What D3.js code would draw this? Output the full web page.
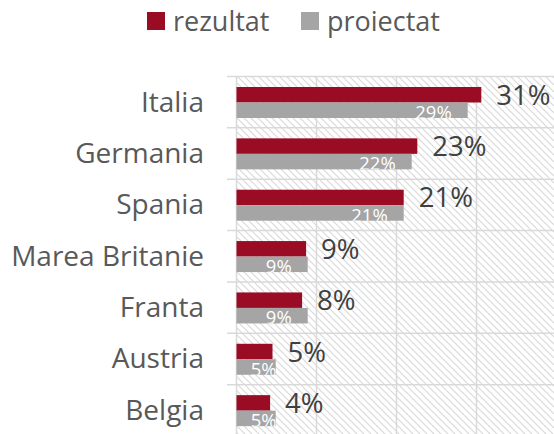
<!DOCTYPE html>
<html>
<head>
<meta charset="utf-8">
<script src="https://cdn.jsdelivr.net/npm/d3@7"></script>
<style>
  body { margin: 0; background: #fff; }
  text { font-family: "Open Sans", sans-serif; }
</style>
</head>
<body>
<script>
// data (percent)
var tari = ["Italia", "Germania", "Spania", "Marea Britanie", "Franta", "Austria", "Belgia"];
var rezultat = [30.6, 22.6, 20.9, 8.7, 8.2, 4.5, 4.2];
var proiectat = [28.9, 21.9, 20.9, 8.9, 8.9, 4.9, 4.9];
var serii = ["rezultat", "proiectat"];
var culori = ["#9a0b24", "#a5a5a5"];
var gridTicks = [10, 20, 30];

var W = 554, H = 434;
var svg = d3.select("body").append("svg")
    .attr("width", W)
    .attr("height", H);

// hatch pattern for plot area
var defs = svg.append("defs");
var pat = defs.append("pattern")
    .attr("id", "hatch")
    .attr("patternUnits", "userSpaceOnUse")
    .attr("width", 7).attr("height", 7);
pat.append("path")
    .attr("d", "M-1,-1 L8,8 M-8,-1 L1,8 M6,-1 L15,8")
    .attr("stroke", "#d9d9d9")
    .attr("stroke-width", 1.2);

var x = d3.scaleLinear().domain([0, 40]).range([236.5, 556.5]);
var y = d3.scaleBand().domain(tari).range([76.5, 436]);
var sub = d3.scaleBand().domain(serii).range([10.5, 41.5]);

// background
svg.append("rect")
    .attr("x", x(0)).attr("y", y.range()[0])
    .attr("width", W - x(0)).attr("height", H - y.range()[0])
    .attr("fill", "url(#hatch)");

// vertical gridlines
svg.selectAll(".vgrid")
    .data(gridTicks)
    .enter().append("line")
    .attr("x1", function(d){ return x(d); })
    .attr("x2", function(d){ return x(d); })
    .attr("y1", y.range()[0]).attr("y2", H)
    .attr("stroke", "#d9d9d9").attr("stroke-width", 1.5);

// horizontal category lines
var bounds = tari.map(function(d){ return y(d); });
svg.selectAll(".hgrid")
    .data(bounds)
    .enter().append("line")
    .attr("x1", 227).attr("x2", W)
    .attr("y1", function(d){ return d; })
    .attr("y2", function(d){ return d; })
    .attr("stroke", "#d9d9d9").attr("stroke-width", 1.5);

// axis line
svg.append("line")
    .attr("x1", x(0)).attr("x2", x(0))
    .attr("y1", y.range()[0]).attr("y2", H)
    .attr("stroke", "#d9d9d9").attr("stroke-width", 1.5);

var rows = tari.map(function(t, i){
    return {tara: t, rezultat: rezultat[i], proiectat: proiectat[i]};
});

// clip paths for grey bar labels
rows.forEach(function(d, i){
    defs.append("clipPath").attr("id", "clip" + i)
        .append("rect")
        .attr("x", x(0)).attr("y", y(d.tara) + sub("proiectat"))
        .attr("width", x(d.proiectat) - x(0))
        .attr("height", sub.bandwidth());
});

var g = svg.selectAll(".row")
    .data(rows)
    .enter().append("g")
    .attr("transform", function(d){ return "translate(0," + y(d.tara) + ")"; });

serii.forEach(function(s, k){
    g.append("rect")
        .attr("x", x(0))
        .attr("y", sub(s))
        .attr("width", function(d){ return x(d[s]) - x(0); })
        .attr("height", sub.bandwidth())
        .attr("fill", culori[k]);
});

// labels for rezultat (outside end)
g.append("text")
    .attr("x", function(d){ return x(d.rezultat) + 15; })
    .attr("y", sub("rezultat") + sub.bandwidth() / 2 + 10)
    .attr("font-size", 27.5)
    .attr("fill", "#404040")
    .text(function(d){ return Math.round(d.rezultat) + "%"; });

// labels for proiectat (inside end, white, clipped)
svg.selectAll(".plab")
    .data(rows)
    .enter().append("text")
    .attr("clip-path", function(d, i){ return "url(#clip" + i + ")"; })
    .attr("text-anchor", "end")
    .attr("x", function(d){ return Math.max(x(d.proiectat) - 16, x(0) + 40); })
    .attr("y", function(d){ return y(d.tara) + sub("proiectat") + sub.bandwidth() + 1; })
    .attr("font-size", 18.5)
    .attr("fill", "#ffffff")
    .text(function(d){ return Math.round(d.proiectat) + "%"; });

// category labels
svg.selectAll(".cat")
    .data(tari)
    .enter().append("text")
    .attr("text-anchor", "end")
    .attr("x", 204)
    .attr("y", function(d){ return y(d) + y.bandwidth() / 2 + 9.5; })
    .attr("font-size", 28)
    .attr("fill", "#595959")
    .text(function(d){ return d; });

// legend
var leg = svg.selectAll(".leg")
    .data(serii)
    .enter().append("g")
    .attr("transform", function(d, i){ return "translate(" + (i ? 301 : 147) + ",12)"; });
leg.append("rect")
    .attr("width", 18).attr("height", 18)
    .attr("fill", function(d, i){ return culori[i]; });
leg.append("text")
    .attr("x", 26).attr("y", 18.5)
    .attr("font-size", 27)
    .attr("fill", "#595959")
    .text(function(d){ return d; });
</script>
</body>
</html>
